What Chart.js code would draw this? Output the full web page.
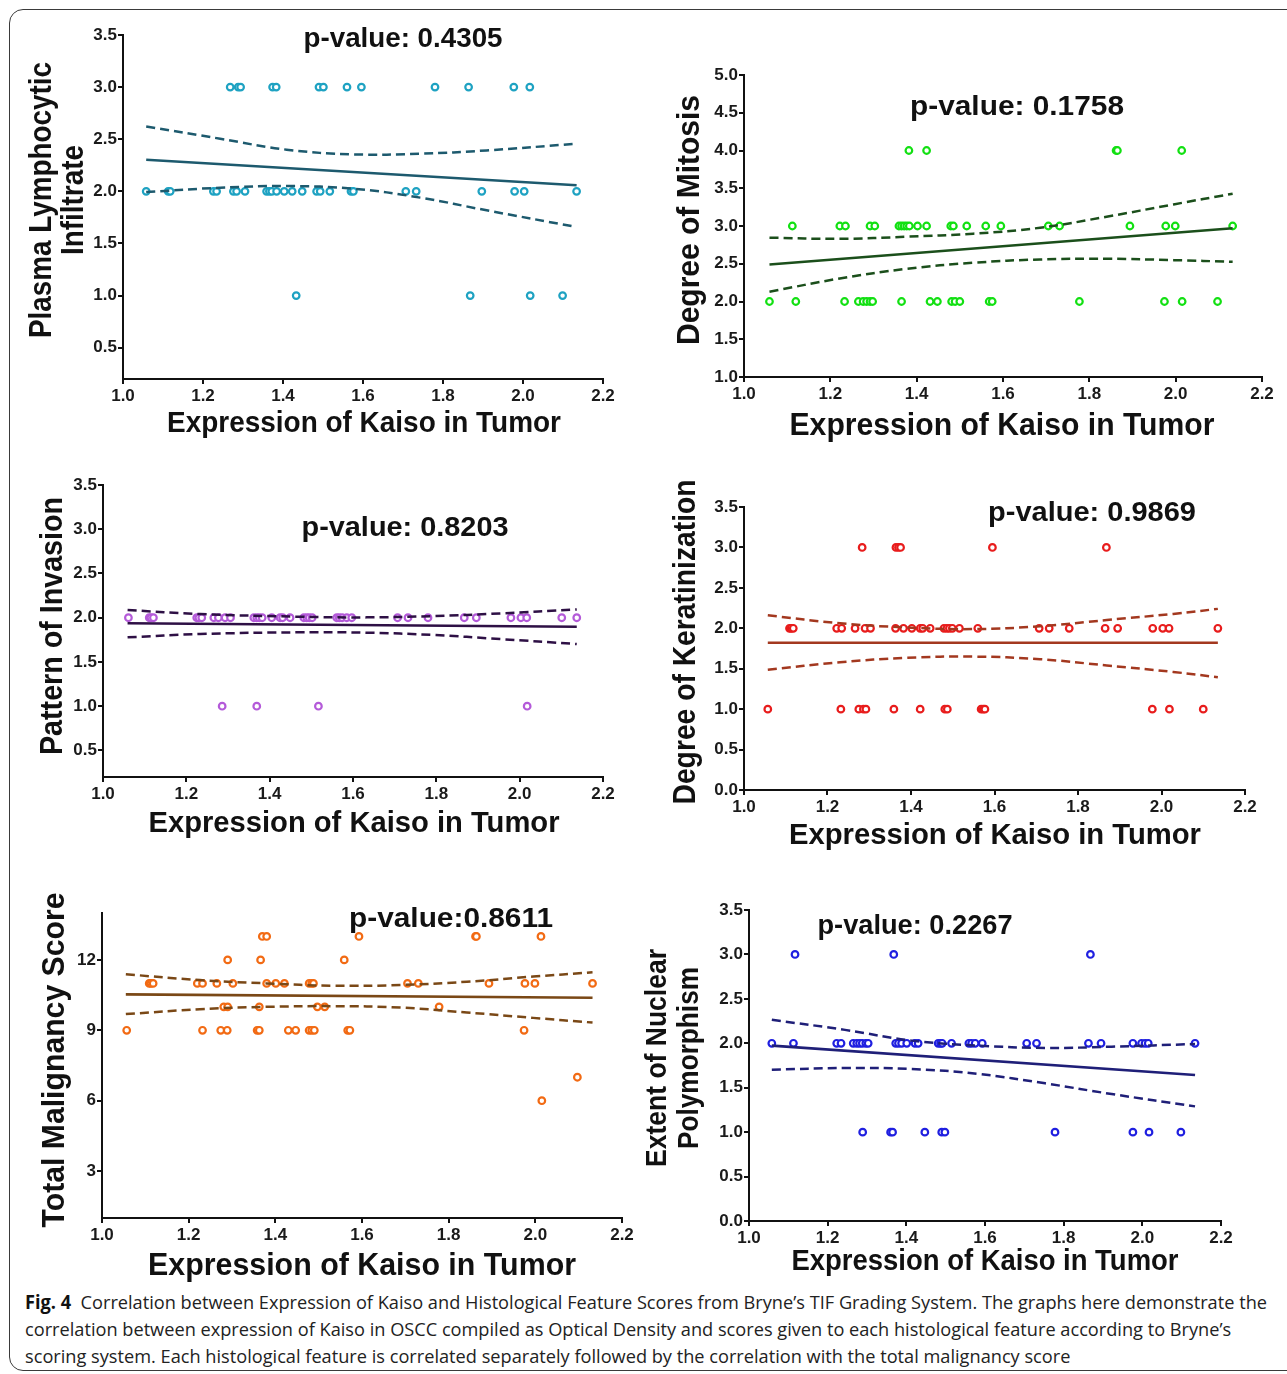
<!DOCTYPE html>
<html>
<head>
<meta charset="utf-8">
<script src="https://cdn.jsdelivr.net/npm/chart.js@4.4.1/dist/chart.umd.min.js"></script>
<style>
  body { margin: 0; background: #fff; width: 1287px; height: 1374px; position: relative; overflow: hidden; }
  .frame { position: absolute; left: 9px; top: 9px; width: 1320px; height: 1362px; border: 1.5px solid #3a3a3a; border-radius: 14px; box-sizing: border-box; }
  canvas.panel { position: absolute; }
  .caption { position: absolute; left: 25px; top: 1289px; font-family: "Open Sans", "Noto Sans", sans-serif; font-size: 19px; line-height: 27px; color: #222; white-space: nowrap; transform-origin: 0 0; }
  .caption span { display: block; }
  .caption b { color: #111; }
</style>
</head>
<body>
<div class="frame"></div>
<div class="caption" id="caption">
  <span id="capLine1"><b>Fig. 4</b>&nbsp; Correlation between Expression of Kaiso and Histological Feature Scores from Bryne’s TIF Grading System. The graphs here demonstrate the</span>
  <span>correlation between expression of Kaiso in OSCC compiled as Optical Density and scores given to each histological feature according to Bryne’s</span>
  <span>scoring system. Each histological feature is correlated separately followed by the correlation with the total malignancy score</span>
</div>
<script>
// x axis is the same on every panel
const xTicks = [1.0, 1.2, 1.4, 1.6, 1.8, 2.0, 2.2];
const halfTicks = [0.5, 1.0, 1.5, 2.0, 2.5, 3.0, 3.5];
const halfTicksZero = [0.0, 0.5, 1.0, 1.5, 2.0, 2.5, 3.0, 3.5];
const mitosisTicks = [1.0, 1.5, 2.0, 2.5, 3.0, 3.5, 4.0, 4.5, 5.0];
const totalTicks = [3, 6, 9, 12];

// Plasma Lymphocytic Infiltrate
const pliLevels = [3, 2, 1];
const pliKaiso = [
  [1.268, 1.288, 1.294, 1.374, 1.383, 1.490, 1.501, 1.560, 1.596, 1.780, 1.864, 1.977, 2.017],
  [1.058, 1.113, 1.118, 1.226, 1.234, 1.276, 1.284, 1.305, 1.359, 1.366, 1.372, 1.384, 1.403, 1.423, 1.448, 1.484, 1.493, 1.517, 1.570, 1.576, 1.707, 1.733, 1.897, 1.979, 2.003, 2.134],
  [1.433, 1.868, 2.018, 2.099]
];
const pliFitX = [1.058, 2.134];
const pliFitY = [2.304, 2.058];
const pliBandX = [1.058, 1.243, 1.409, 1.576, 1.743, 1.909, 2.134];
const pliUpper = [2.623, 2.505, 2.400, 2.355, 2.361, 2.393, 2.457];
const pliLower = [1.993, 2.035, 2.051, 2.026, 1.940, 1.818, 1.658];

// Degree of Mitosis
const dmLevels = [4, 3, 2];
const dmKaiso = [
  [1.382, 1.423, 1.862, 1.865, 2.014],
  [1.112, 1.222, 1.235, 1.292, 1.303, 1.359, 1.365, 1.371, 1.377, 1.383, 1.402, 1.423, 1.479, 1.485, 1.516, 1.560, 1.595, 1.705, 1.731, 1.894, 1.977, 1.999, 2.132],
  [1.059, 1.120, 1.233, 1.265, 1.276, 1.284, 1.292, 1.298, 1.365, 1.431, 1.448, 1.481, 1.489, 1.500, 1.568, 1.575, 1.777, 1.974, 2.015, 2.097]
];
const dmFitX = [1.059, 2.132];
const dmFitY = [2.49, 2.97];
const dmBandX = [1.059, 1.222, 1.377, 1.531, 1.686, 1.840, 1.995, 2.132];
const dmUpper = [2.845, 2.830, 2.858, 2.898, 2.977, 3.123, 3.286, 3.428];
const dmLower = [2.129, 2.305, 2.433, 2.513, 2.557, 2.566, 2.548, 2.526];

// Pattern of Invasion
const piLevels = [2, 1];
const piKaiso = [
  [1.061, 1.111, 1.115, 1.121, 1.225, 1.230, 1.237, 1.266, 1.277, 1.293, 1.306, 1.362, 1.369, 1.375, 1.382, 1.405, 1.425, 1.431, 1.449, 1.482, 1.489, 1.495, 1.502, 1.561, 1.567, 1.574, 1.585, 1.597, 1.707, 1.732, 1.780, 1.867, 1.896, 1.979, 2.003, 2.017, 2.101, 2.137],
  [1.286, 1.369, 1.517, 2.018]
];
const piFitX = [1.059, 2.137];
const piFitY = [1.937, 1.898];
const piBandX = [1.059, 1.233, 1.473, 1.633, 1.793, 1.953, 2.137];
const piUpper = [2.087, 2.042, 2.011, 2.004, 2.019, 2.049, 2.094];
const piLower = [1.778, 1.816, 1.835, 1.831, 1.805, 1.759, 1.703];

// Degree of Keratinization
const dkLevels = [3, 2, 1];
const dkKaiso = [
  [1.283, 1.364, 1.370, 1.375, 1.595, 1.868],
  [1.109, 1.113, 1.118, 1.222, 1.234, 1.266, 1.290, 1.303, 1.363, 1.382, 1.402, 1.422, 1.428, 1.446, 1.479, 1.486, 1.492, 1.499, 1.516, 1.560, 1.707, 1.731, 1.779, 1.865, 1.895, 1.979, 2.003, 2.018, 2.135],
  [1.057, 1.232, 1.275, 1.286, 1.292, 1.359, 1.422, 1.481, 1.487, 1.568, 1.573, 1.577, 1.978, 2.019, 2.100]
];
const dkFitX = [1.057, 2.135];
const dkFitY = [1.821, 1.821];
const dkBandX = [1.057, 1.230, 1.390, 1.549, 1.709, 1.869, 2.028, 2.135];
const dkUpper = [2.160, 2.062, 2.010, 1.990, 2.025, 2.102, 2.178, 2.240];
const dkLower = [1.488, 1.580, 1.635, 1.650, 1.618, 1.540, 1.460, 1.395];

// Total Malignancy Score
const tmsLevels = [13, 12, 11, 10, 9, 7, 6];
const tmsKaiso = [
  [1.370, 1.380, 1.593, 1.862, 1.864, 2.013],
  [1.290, 1.366, 1.559],
  [1.109, 1.113, 1.118, 1.220, 1.232, 1.265, 1.302, 1.380, 1.401, 1.421, 1.478, 1.484, 1.488, 1.705, 1.730, 1.893, 1.976, 1.999, 2.132],
  [1.281, 1.290, 1.363, 1.497, 1.514, 1.778],
  [1.057, 1.232, 1.274, 1.289, 1.358, 1.363, 1.430, 1.447, 1.478, 1.484, 1.490, 1.567, 1.572, 1.974],
  [2.097],
  [2.015]
];
const tmsFitX = [1.055, 2.132];
const tmsFitY = [10.53, 10.39];
const tmsBandX = [1.055, 1.226, 1.380, 1.534, 1.688, 1.842, 1.995, 2.132];
const tmsUpper = [11.39, 11.14, 11.00, 10.90, 10.93, 11.07, 11.29, 11.47];
const tmsLower = [9.69, 9.90, 10.00, 10.03, 9.97, 9.76, 9.53, 9.33];

// Extent of Nuclear Polymorphism
const npLevels = [3, 2, 1];
const npKaiso = [
  [1.117, 1.368, 1.868],
  [1.058, 1.113, 1.223, 1.234, 1.265, 1.274, 1.281, 1.288, 1.297, 1.303, 1.373, 1.380, 1.388, 1.401, 1.422, 1.430, 1.481, 1.487, 1.491, 1.515, 1.559, 1.566, 1.575, 1.593, 1.706, 1.731, 1.863, 1.895, 1.976, 1.998, 2.007, 2.015, 2.134],
  [1.289, 1.360, 1.365, 1.447, 1.490, 1.498, 1.778, 1.976, 2.017, 2.098]
];
const npFitX = [1.058, 2.134];
const npFitY = [1.974, 1.643];
const npBandX = [1.058, 1.244, 1.414, 1.583, 1.753, 1.922, 2.134];
const npUpper = [2.264, 2.151, 2.030, 1.974, 1.948, 1.962, 1.992];
const npLower = [1.703, 1.722, 1.711, 1.655, 1.549, 1.429, 1.290];

const BOLD = '"Liberation Sans", Arial, Helvetica, sans-serif';

function pairs(xs, ys) {
    return xs.map((x, i) => ({ x: x, y: ys[i] }));
}

function levelPoints(levels, kaiso) {
    const pts = [];
    levels.forEach((lv, i) => kaiso[i].forEach(x => pts.push({ x: x, y: lv })));
    return pts;
}

// plot = [left, top, right, bottom] of the axes box on the page
const panels = [
    {
        plot: [123, 35, 603, 379], yMin: 0.2, yMax: 3.5, yTicks: halfTicks, fmt: 1,
        dot: '#1ea2c2', line: '#1d5a6e',
        points: levelPoints(pliLevels, pliKaiso), fit: pairs(pliFitX, pliFitY),
        upper: pairs(pliBandX, pliUpper), lower: pairs(pliBandX, pliLower),
        texts: [
            { t: 'Plasma Lymphocytic', x: 42, y: 200, size: 31, w: 276, rot: true },
            { t: 'Infiltrate', x: 74, y: 200, size: 31, w: 110, rot: true },
            { t: 'p-value: 0.4305', x: 403, y: 40, size: 27, w: 199 },
            { t: 'Expression of Kaiso in Tumor', x: 364, y: 424, size: 30, w: 394 }
        ]
    },
    {
        plot: [744, 75, 1262, 377], yMin: 1.0, yMax: 5.0, yTicks: mitosisTicks, fmt: 1,
        dot: '#12e012', line: '#1b4f1b',
        points: levelPoints(dmLevels, dmKaiso), fit: pairs(dmFitX, dmFitY),
        upper: pairs(dmBandX, dmUpper), lower: pairs(dmBandX, dmLower),
        texts: [
            { t: 'Degree of Mitosis', x: 690, y: 220, size: 31, w: 250, rot: true },
            { t: 'p-value: 0.1758', x: 1017, y: 107, size: 28, w: 214 },
            { t: 'Expression of Kaiso in Tumor', x: 1002, y: 426, size: 31, w: 425 }
        ]
    },
    {
        plot: [103, 485, 603, 777], yMin: 0.2, yMax: 3.5, yTicks: halfTicks, fmt: 1,
        dot: '#b45ad9', line: '#2e1045',
        points: levelPoints(piLevels, piKaiso), fit: pairs(piFitX, piFitY),
        upper: pairs(piBandX, piUpper), lower: pairs(piBandX, piLower),
        texts: [
            { t: 'Pattern of Invasion', x: 53, y: 626, size: 31, w: 258, rot: true },
            { t: 'p-value: 0.8203', x: 405, y: 528, size: 28, w: 207 },
            { t: 'Expression of Kaiso in Tumor', x: 354, y: 824, size: 30, w: 411 }
        ]
    },
    {
        plot: [744, 507, 1245, 790], yMin: 0.0, yMax: 3.5, yTicks: halfTicksZero, fmt: 1,
        dot: '#e81c1c', line: '#a3381f',
        points: levelPoints(dkLevels, dkKaiso), fit: pairs(dkFitX, dkFitY),
        upper: pairs(dkBandX, dkUpper), lower: pairs(dkBandX, dkLower),
        texts: [
            { t: 'Degree of Keratinization', x: 686, y: 642, size: 31, w: 325, rot: true },
            { t: 'p-value: 0.9869', x: 1092, y: 513, size: 28, w: 208 },
            { t: 'Expression of Kaiso in Tumor', x: 995, y: 836, size: 30, w: 412 }
        ]
    },
    {
        plot: [102, 913, 622, 1218], yMin: 1, yMax: 14, yTicks: totalTicks, fmt: 0,
        dot: '#f26a13', line: '#7a4816',
        points: levelPoints(tmsLevels, tmsKaiso), fit: pairs(tmsFitX, tmsFitY),
        upper: pairs(tmsBandX, tmsUpper), lower: pairs(tmsBandX, tmsLower),
        texts: [
            { t: 'Total Malignancy Score', x: 55, y: 1060, size: 31, w: 335, rot: true },
            { t: 'p-value:0.8611', x: 451, y: 919, size: 28, w: 204 },
            { t: 'Expression of Kaiso in Tumor', x: 362, y: 1266, size: 31, w: 428 }
        ]
    },
    {
        plot: [749, 910, 1221, 1221], yMin: 0.0, yMax: 3.5, yTicks: halfTicksZero, fmt: 1,
        dot: '#1f1fe0', line: '#1f1f78',
        points: levelPoints(npLevels, npKaiso), fit: pairs(npFitX, npFitY),
        upper: pairs(npBandX, npUpper), lower: pairs(npBandX, npLower),
        texts: [
            { t: 'Extent of Nuclear', x: 658, y: 1058, size: 29, w: 218, rot: true },
            { t: 'Polymorphism', x: 690, y: 1058, size: 29, w: 182, rot: true },
            { t: 'p-value: 0.2267', x: 915, y: 927, size: 27, w: 195 },
            { t: 'Expression of Kaiso in Tumor', x: 985, y: 1262, size: 29, w: 387 }
        ]
    }
];

function drawFit(ctx, item) {
    ctx.save();
    ctx.translate(item.x, item.y);
    if (item.rot) ctx.rotate(-Math.PI / 2);
    ctx.font = 'bold ' + item.size + 'px ' + BOLD;
    const natural = ctx.measureText(item.t).width;
    ctx.scale(item.w / natural, 1);
    ctx.fillStyle = '#111';
    ctx.textAlign = 'center';
    ctx.textBaseline = 'middle';
    ctx.fillText(item.t, 0, 0);
    ctx.restore();
}

function buildPanel(p) {
    const padL = 112, padT = 30, padR = 40, padB = 72;
    const left = p.plot[0] - padL;
    const top = p.plot[1] - padT;
    const cv = document.createElement('canvas');
    cv.className = 'panel';
    cv.width = p.plot[2] - p.plot[0] + padL + padR;
    cv.height = p.plot[3] - p.plot[1] + padT + padB;
    cv.style.left = left + 'px';
    cv.style.top = top + 'px';
    document.body.appendChild(cv);

    const textPlugin = {
        id: 'panelText',
        afterDraw(chart) {
            const ctx = chart.ctx;
            p.texts.forEach(item => drawFit(ctx, Object.assign({}, item, { x: item.x - left, y: item.y - top })));
        }
    };

    const axisGrid = { display: true, drawOnChartArea: false, drawTicks: true, tickLength: 5, color: '#111', lineWidth: 2 };
    const axisBorder = { display: true, color: '#111', width: 2 };
    const tickFont = { family: BOLD, size: 17, weight: 'bold' };
    const bandStyle = {
        type: 'line', borderColor: p.line, borderWidth: 2.5, borderDash: [9, 5],
        pointRadius: 0, tension: 0.4, fill: false
    };

    new Chart(cv.getContext('2d'), {
        type: 'scatter',
        data: {
            datasets: [
                { type: 'line', data: p.fit, borderColor: p.line, borderWidth: 2.6, pointRadius: 0, fill: false },
                Object.assign({ data: p.upper }, bandStyle),
                Object.assign({ data: p.lower }, bandStyle),
                {
                    data: p.points, pointRadius: 3.3, pointHoverRadius: 3.3, pointBorderWidth: 2.2,
                    borderColor: p.dot, backgroundColor: '#fff', pointBackgroundColor: '#fff'
                }
            ]
        },
        options: {
            responsive: false,
            animation: false,
            devicePixelRatio: 1,
            layout: { padding: { left: 0, top: padT, right: padR, bottom: 0 } },
            plugins: { legend: { display: false }, tooltip: { enabled: false } },
            scales: {
                x: {
                    type: 'linear', min: 1.0, max: 2.2,
                    afterBuildTicks: s => { s.ticks = xTicks.map(v => ({ value: v })); },
                    afterFit: s => { s.height = padB; },
                    grid: axisGrid, border: axisBorder,
                    ticks: { padding: 2, color: '#1a1a1a', font: tickFont, maxRotation: 0, autoSkip: false, callback: v => Number(v).toFixed(1) }
                },
                y: {
                    type: 'linear', min: p.yMin, max: p.yMax,
                    afterBuildTicks: s => { s.ticks = p.yTicks.map(v => ({ value: v })); },
                    afterFit: s => { s.width = padL; },
                    grid: axisGrid, border: axisBorder,
                    ticks: { padding: 1, color: '#1a1a1a', font: tickFont, autoSkip: false, callback: v => Number(v).toFixed(p.fmt) }
                }
            }
        },
        plugins: [textPlugin]
    });
}

panels.forEach(buildPanel);

// caption set in a humanist sans, narrowed to the width of the printed lines
const cap = document.getElementById('caption');
const line1 = document.getElementById('capLine1');
line1.style.display = 'inline-block';
const k = 1242 / line1.getBoundingClientRect().width;
line1.style.display = 'block';
cap.style.transform = 'scaleX(' + k + ')';
</script>
</body>
</html>
